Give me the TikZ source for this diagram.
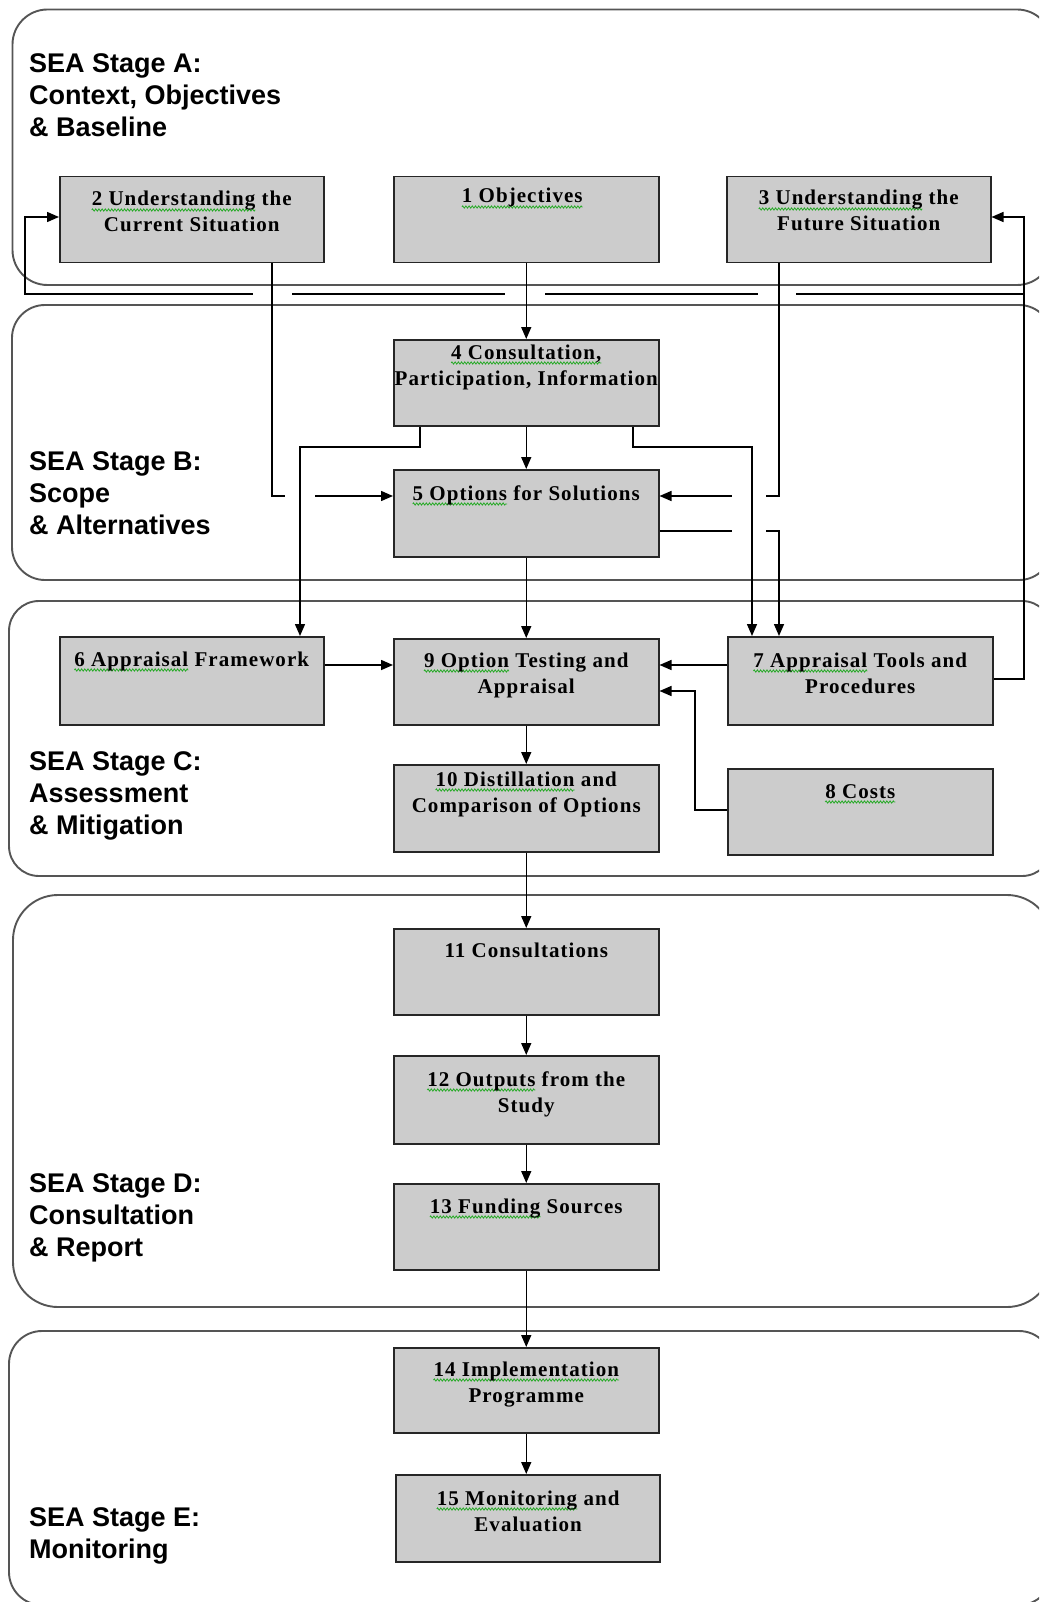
\documentclass[tikz,border=0pt]{standalone}
\usepackage{fontspec}
\setmainfont{Liberation Serif}
\newfontfamily\stagefont{Liberation Sans}
\newfontfamily\boxfont[LetterSpace=5]{Liberation Serif}
\usetikzlibrary{arrows.meta,calc,decorations.pathmorphing}
\definecolor{boxgray}{RGB}{204,204,204}
\definecolor{stageline}{RGB}{85,85,85}
\definecolor{wavegreen}{RGB}{40,170,40}
\newdimen\gwd
\newcommand\gw[1]{\setbox0\hbox{#1}\gwd=\wd0\relax\leavevmode\rlap{\tikz[overlay]\draw[wavegreen,line width=0.8pt,decorate,decoration={zigzag,segment length=3.2pt,amplitude=1.1pt}] (0pt,-4pt) -- (\the\gwd,-4pt);}\box0\relax}
\begin{document}
\begin{tikzpicture}[x=1pt,y=-1pt,
  stage/.style={draw=stageline, line width=1.9pt, rounded corners=#1},
  pbox/.style={draw=black!85, fill=boxgray, line width=1.5pt, minimum width=265pt, minimum height=86pt, inner sep=0pt, anchor=north west},
  btext/.style={font=\boxfont\bfseries\fontsize{21}{26}\selectfont, align=center, inner sep=0pt, anchor=base},
  stext/.style={font=\stagefont\bfseries\fontsize{27}{32}\selectfont, align=left, inner sep=0pt, anchor=base west},
  conn/.style={line width=1.5pt, black},
  arr/.style={conn, -{Triangle[length=12pt,width=10pt]}},
  hopgap/.style={fill=white, draw=none}]
\useasboundingbox (0,0) rectangle (1039,1602);
% stage frames
\begin{scope}
\clip (0,0) rectangle (1039,1602);
\draw[stage=35] (12.5,9.5) rectangle (1052,285);
\draw[stage=33] (12,305) rectangle (1052,580);
\draw[stage=30] (9,601) rectangle (1052,876);
\draw[stage=45] (13,895) rectangle (1052,1307);
\draw[stage=33] (9,1331) rectangle (1052,1605);
\end{scope}
% stage labels (anchor = baseline of last line)
\node[stext] (sA) at (29,137) {SEA Stage A:\\Context, Objectives\\\& Baseline};
\node[stext] (sB) at (29,534) {SEA Stage B:\\Scope\\\& Alternatives};
\node[stext] (sC) at (29,834) {SEA Stage C:\\Assessment\\\& Mitigation};
\node[stext] (sD) at (29,1256) {SEA Stage D:\\Consultation\\\& Report};
\node[stext] (sE) at (29,1558) {SEA Stage E:\\Monitoring};
% boxes
\node[pbox, minimum width=264pt] (b2) at (59,176) {};
\node[pbox] (b1) at (393,176) {};
\node[pbox, minimum width=264pt] (b3) at (726,176) {};
\node[pbox] (b4) at (393,339) {};
\node[pbox, minimum height=87pt] (b5) at (393,469) {};
\node[pbox, minimum width=264pt, minimum height=88pt] (b6) at (59,636) {};
\node[pbox] (b9) at (393,638) {};
\node[pbox, minimum height=88pt] (b7) at (727,636) {};
\node[pbox, minimum height=87pt] (b10) at (393,764) {};
\node[pbox] (b8) at (727,768) {};
\node[pbox] (b11) at (393,928) {};
\node[pbox, minimum height=88pt] (b12) at (393,1055) {};
\node[pbox] (b13) at (393,1183) {};
\node[pbox, minimum height=85pt] (b14) at (393,1347) {};
\node[pbox, line width=2.3pt, minimum height=87pt, minimum width=264pt] (b15) at (395,1474) {};
% box texts (anchor = baseline of last line)
\node[btext] (t2) at ($(b2.north)+(0,56)$) {\gw{2 Understanding} the\\Current Situation};
\node[btext] (t1) at ($(b1.north)+(-4,27)$) {\gw{1 Objectives}};
\node[btext] (t3) at ($(b3.north)+(0,55)$) {\gw{3 Understanding} the\\Future Situation};
\node[btext] (t4) at ($(b4.north)+(0,46)$) {\gw{4 Consultation,}\\Participation, Information};
\node[btext] (t5) at ($(b5.north)+(0,31)$) {\gw{5 Options} for Solutions};
\node[btext] (t6) at ($(b6.north)+(0,30)$) {\gw{6 Appraisal} Framework};
\node[btext] (t9) at ($(b9.north)+(0,55)$) {\gw{9 Option} Testing and\\Appraisal};
\node[btext] (t7) at ($(b7.north)+(0,57)$) {\gw{7 Appraisal} Tools and\\Procedures};
\node[btext] (t10) at ($(b10.north)+(0,48)$) {\gw{10 Distillation} and\\Comparison of Options};
\node[btext] (t8) at ($(b8.north)+(0,30)$) {\gw{8 Costs}};
\node[btext] (t11) at ($(b11.north)+(0,29)$) {11 Consultations};
\node[btext] (t12) at ($(b12.north)+(0,57)$) {\gw{12 Outputs} from the\\Study};
\node[btext] (t13) at ($(b13.north)+(0,30)$) {\gw{13 Funding} Sources};
\node[btext] (t14) at ($(b14.north)+(0,55)$) {\gw{14 Implementation}\\Programme};
\node[btext] (t15) at ($(b15.north)+(0,57)$) {\gw{15 Monitoring} and\\Evaluation};
% helper coordinates
\coordinate (L25) at (25,0);
\coordinate (L272) at (272,0);
\coordinate (L300) at (300,0);
\coordinate (L420) at (420,0);
\coordinate (L633) at (633,0);
\coordinate (L695) at (695,0);
\coordinate (L752) at (752,0);
\coordinate (L779) at (779,0);
\coordinate (L1024) at (1024,0);
\coordinate (H217) at (0,217);
\coordinate (H294) at (0,294);
\coordinate (H447) at (0,447);
\coordinate (H496) at (0,496);
\coordinate (H531) at (0,531);
\coordinate (H665) at (0,665);
\coordinate (H679) at (0,679);
\coordinate (H691) at (0,691);
\coordinate (H810) at (0,810);
% feedback from 7 to 3 and 2
\draw[arr] (b7.east |- H679) -| (L1024 |- H217) -- (b3.east |- H217);
\draw[arr] (L1024 |- H294) -| (L25 |- H217) -- (b2.west |- H217);
\fill[hopgap] (253,291) rectangle (292,297);
\fill[hopgap] (505,291) rectangle (545,297);
\fill[hopgap] (758,291) rectangle (796,297);
% main flow
\draw[arr] (b1.south) -- (b4.north);
\draw[arr] (b2.south -| L272) |- (b5.west |- H496);
\draw[arr] (b3.south -| L779) |- (b5.east |- H496);
\draw[arr] (b5.east |- H531) -| (b7.north -| L779);
\fill[hopgap] (285,493) rectangle (315,499);
\fill[hopgap] (732,493) rectangle (766,499);
\fill[hopgap] (732,528) rectangle (766,534);
\draw[arr] (b4.south) -- (b5.north);
\draw[arr] (b4.south -| L420) |- (L300 |- H447) -- (b6.north -| L300);
\draw[arr] (b4.south -| L633) |- (L752 |- H447) -- (b7.north -| L752);
\draw[arr] (b5.south) -- (b9.north);
\draw[arr] (b6.east |- H665) -- (b9.west |- H665);
\draw[arr] (b7.west |- H665) -- (b9.east |- H665);
\draw[arr] (b8.west |- H810) -| (L695 |- H691) -- (b9.east |- H691);
\draw[arr] (b9.south) -- (b10.north);
\draw[arr] (b10.south) -- (b11.north);
\draw[arr] (b11.south) -- (b12.north);
\draw[arr] (b12.south) -- (b13.north);
\draw[arr] (b13.south) -- (b14.north);
\draw[arr] (b14.south) -- (b14.south |- b15.north);
\end{tikzpicture}
\end{document}
